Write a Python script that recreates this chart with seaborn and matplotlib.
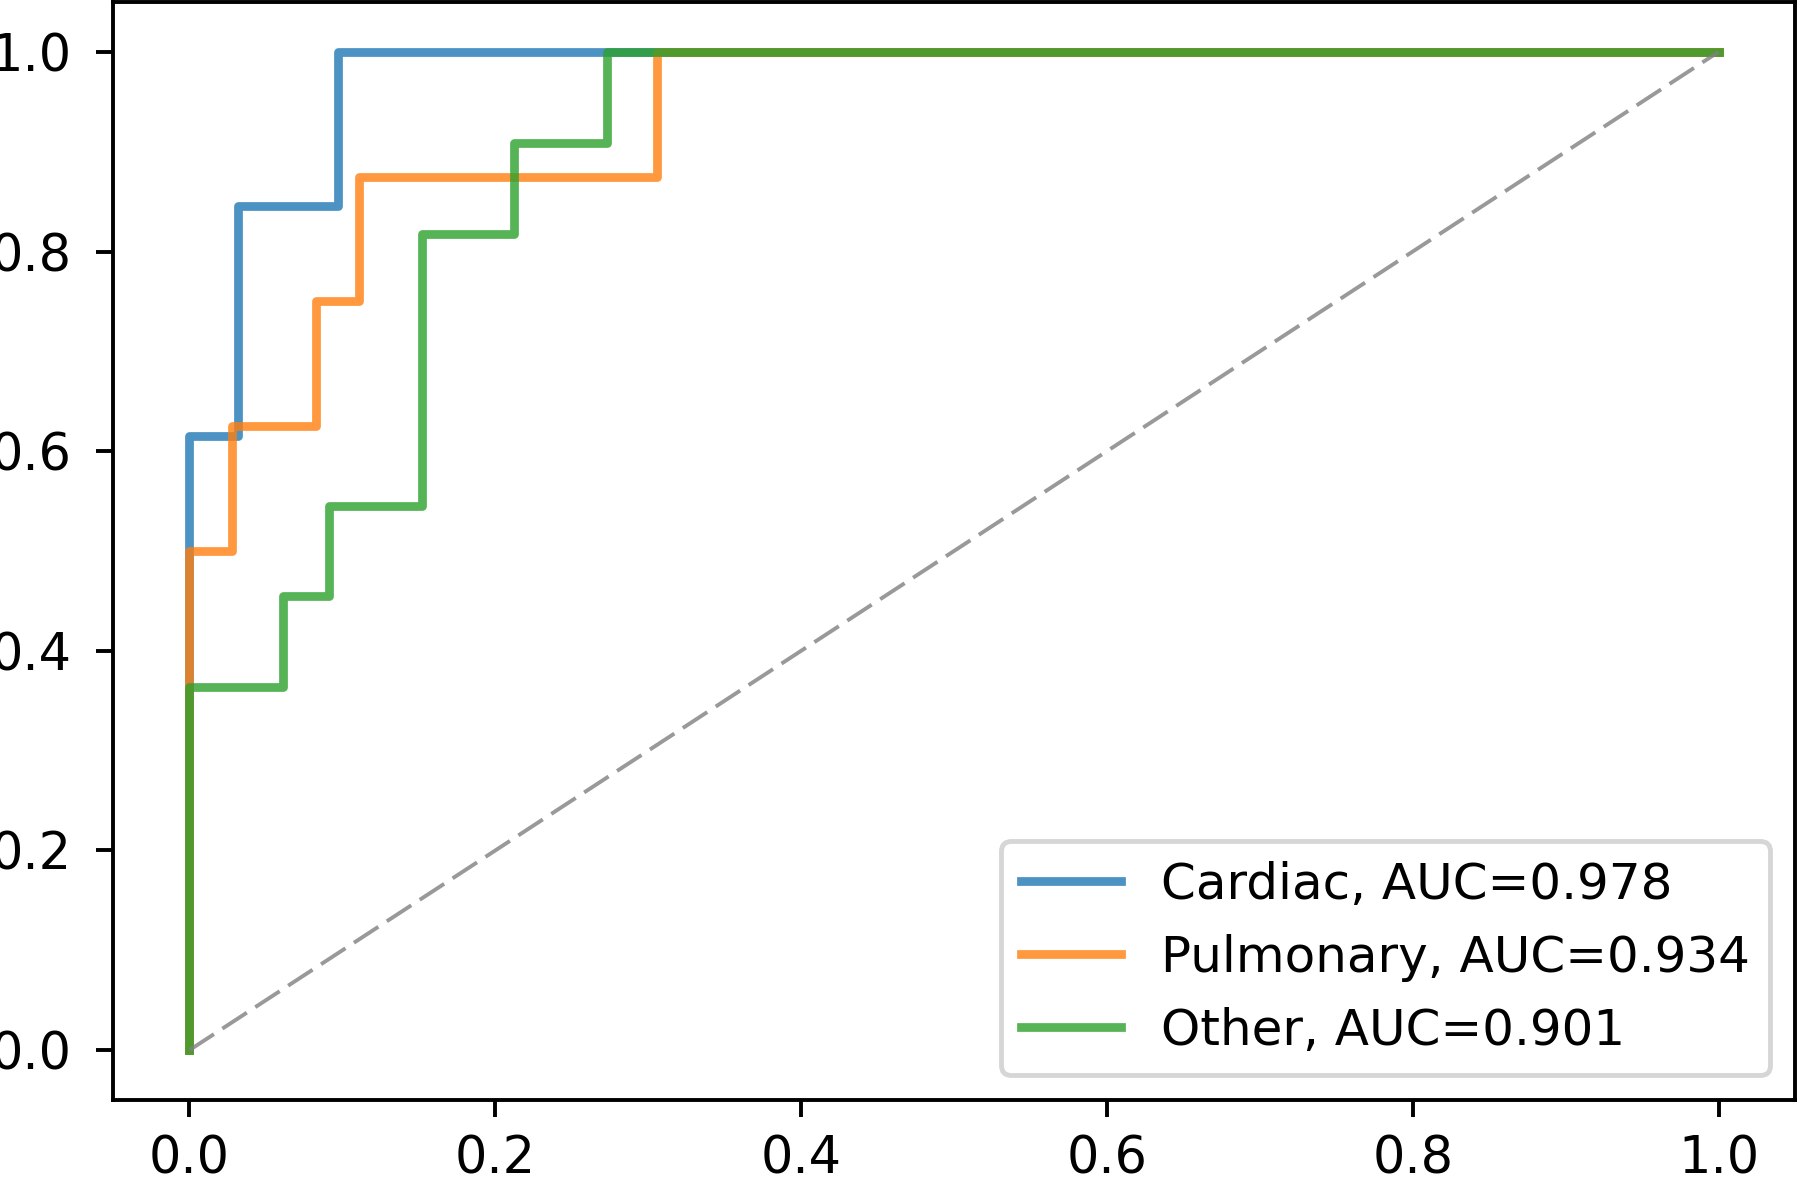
import matplotlib
matplotlib.use("Agg")
import matplotlib.pyplot as plt
import seaborn as sns
import pandas as pd

# ── ROC points (corners of the step curves) ──────────────────────────────────
cardiac_fpr = [0.0, 0.0, 0.032, 0.032, 0.097, 0.097, 1.0]
cardiac_tpr = [0.0, 0.615, 0.615, 0.846, 0.846, 1.0, 1.0]

pulmonary_fpr = [0.0, 0.0, 0.028, 0.028, 0.083, 0.083, 0.111, 0.111, 0.306, 0.306, 1.0]
pulmonary_tpr = [0.0, 0.5, 0.5, 0.625, 0.625, 0.75, 0.75, 0.875, 0.875, 1.0, 1.0]

other_fpr = [0.0, 0.0, 0.061, 0.061, 0.091, 0.091, 0.152, 0.152, 0.212, 0.212, 0.273, 0.273, 1.0]
other_tpr = [0.0, 0.364, 0.364, 0.455, 0.455, 0.545, 0.545, 0.818, 0.818, 0.909, 0.909, 1.0, 1.0]

classes = ["Cardiac", "Pulmonary", "Other"]
aucs = [0.978, 0.934, 0.901]
chance = [0.0, 1.0]
ticks = [0.0, 0.2, 0.4, 0.6, 0.8, 1.0]

colors = sns.color_palette("tab10", 3)

plt.rcParams["font.size"] = 10.5

# ── Figure ───────────────────────────────────────────────────────────────────
fig = plt.figure(figsize=(1800 / 350, 1179 / 350), dpi=350, facecolor="white")
ax = fig.add_axes([0.0628, 0.0670, 0.9344, 0.9313])

curves = [(cardiac_fpr, cardiac_tpr), (pulmonary_fpr, pulmonary_tpr), (other_fpr, other_tpr)]
for (fpr, tpr), name, auc, c in zip(curves, classes, aucs, colors):
    df = pd.DataFrame({"fpr": fpr, "tpr": tpr})
    sns.lineplot(data=df, x="fpr", y="tpr", sort=False, estimator=None,
                 color=c, alpha=0.8, linewidth=1.8, ax=ax,
                 label=f"{name}, AUC={auc:.3f}")

# chance diagonal
sns.lineplot(x=chance, y=chance, color="grey", alpha=0.8,
             linewidth=0.8, ax=ax).lines[-1].set_linestyle((0, (7.5, 2.6)))

ax.set_xlabel("")
ax.set_ylabel("")
ax.set_xticks(ticks)
ax.set_yticks(ticks)
ax.tick_params(axis="y", pad=5)
ax.tick_params(labelsize=10.5)
ax.legend(loc="lower right", fontsize=10.3)

fig.savefig("out.png", dpi=350, facecolor="white")
plt.close(fig)
